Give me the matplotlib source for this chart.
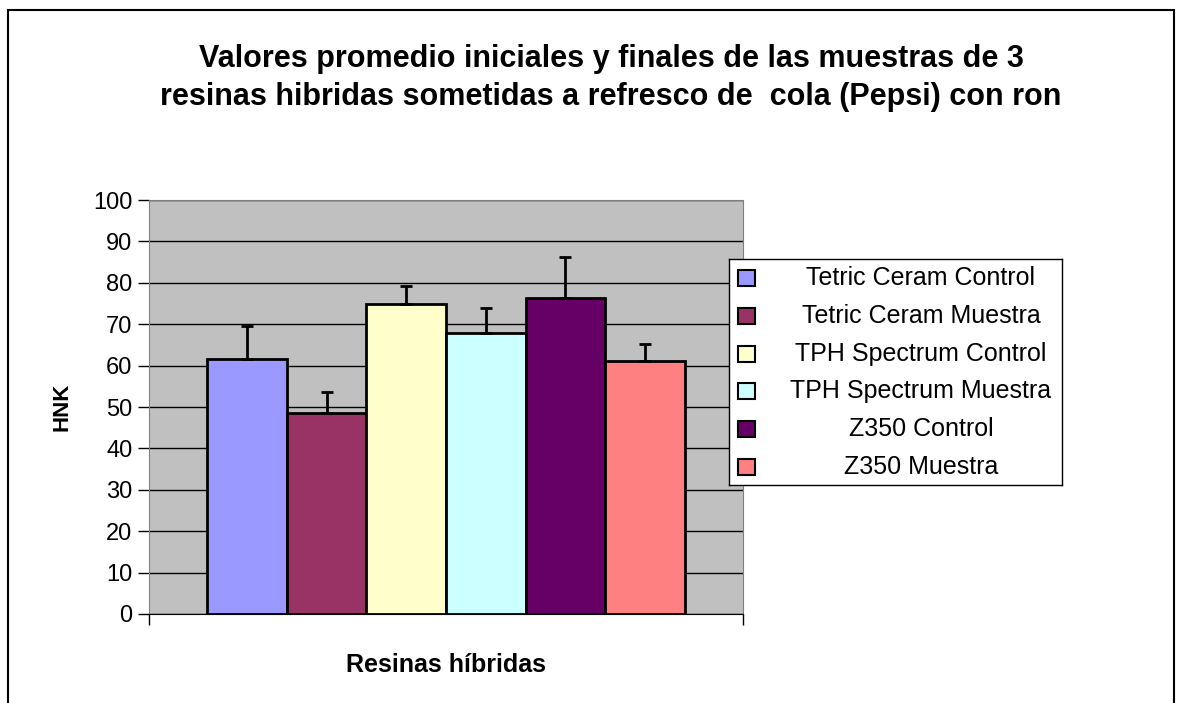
import matplotlib
matplotlib.use("Agg")
import matplotlib.pyplot as plt
from matplotlib.patches import Rectangle
import numpy as np

plt.rcParams['font.family'] = ['Liberation Sans', 'DejaVu Sans']

# data
series = ["Tetric Ceram Control", "Tetric Ceram Muestra", "TPH Spectrum Control",
          "TPH Spectrum Muestra", "Z350 Control", "Z350 Muestra"]
means = [61.5, 48.6, 74.8, 67.9, 76.3, 61.1]
errors = [8.1, 5.0, 4.5, 6.1, 10.0, 4.0]
colors = ["#9999FF", "#993366", "#FFFFCC", "#CCFFFF", "#660066", "#FF8080"]
yticks = list(range(0, 101, 10))

W, H = 1179, 703
fig = plt.figure(figsize=(W / 100, H / 100), dpi=100)

def px(x0, y0, x1, y1):
    # pixel box (top-left origin) -> figure fraction rect
    return [x0 / W, 1 - y1 / H, (x1 - x0) / W, (y1 - y0) / H]

# chart area border (bottom runs off the picture)
fig.patches.append(Rectangle((8 / W, -0.05), (1174 - 8) / W, 1.05 - 10 / H,
                             transform=fig.transFigure, fill=False,
                             edgecolor="black", linewidth=1.5))

ax = fig.add_axes(px(149, 200, 743, 614))
ax.set_facecolor("#C0C0C0")
n = len(series)
xpos = np.arange(n) - (n - 1) / 2
for i in range(n):
    ax.bar(xpos[i], means[i], width=1.0, color=colors[i], edgecolor="black",
           linewidth=2, zorder=3)
    ax.errorbar(xpos[i], means[i], yerr=[[0], [errors[i]]], fmt="none",
                ecolor="black", elinewidth=2, capsize=4.5, capthick=2, zorder=4)

ax.set_xlim(-3.735, 3.735)
ax.set_ylim(0, 100)
ax.set_yticks(yticks)
ax.yaxis.grid(True, color="black", linewidth=1)
ax.set_axisbelow(True)
ax.set_xticks([-3.735, 3.735])
ax.set_xticklabels(["", ""])
ax.tick_params(axis="x", length=8, width=1, direction="out")
ax.tick_params(axis="y", length=8, width=1, direction="out", labelsize=17, pad=4)
for s in ["top", "right", "left"]:
    ax.spines[s].set_color("#808080")
ax.spines["bottom"].set_color("black")

fig.text(62 / W, 1 - 407 / H, "HNK", rotation=90, ha="center", va="center",
         fontsize=16, fontweight="bold")
fig.text(446 / W, 1 - 665 / H, "Resinas híbridas", ha="center", va="center",
         fontsize=18, fontweight="bold")

fig.text(611 / W, 1 - 78 / H,
         "Valores promedio iniciales y finales de las muestras de 3\n"
         "resinas hibridas sometidas a refresco de  cola (Pepsi) con ron",
         ha="center", va="center", fontsize=22, fontweight="bold",
         linespacing=1.35)

# legend box
lg = fig.add_axes(px(729, 259, 1062, 485))
lg.set_xlim(729, 1062)
lg.set_ylim(485, 259)
lg.set_xticks([])
lg.set_yticks([])
for s in lg.spines.values():
    s.set_linewidth(1)
    s.set_color("black")
rows = np.linspace(278, 467, n)
for i in range(n):
    lg.add_patch(Rectangle((738, rows[i] - 8), 17, 16, facecolor=colors[i],
                           edgecolor="black", linewidth=1.5))
    lg.text(921, rows[i], series[i], ha="center", va="center", fontsize=18)

fig.savefig("out.png", dpi=100)
